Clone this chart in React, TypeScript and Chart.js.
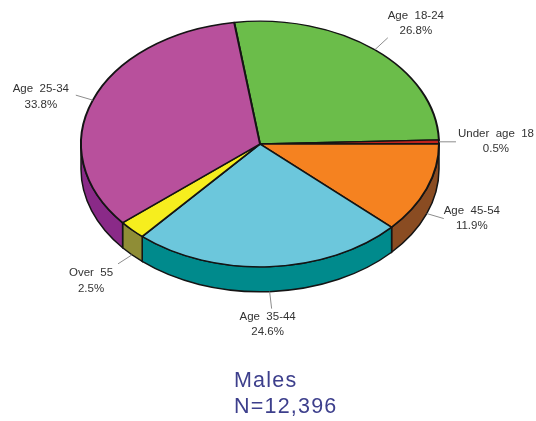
import React, { useEffect, useRef } from "react";
import { Chart, registerables } from "chart.js";

Chart.register(...registerables);

const categories = ["Age  18-24", "Under  age  18", "Age  45-54", "Age  35-44", "Over  55", "Age  25-34"];
const shares = [26.8, 0.5, 11.9, 24.6, 2.5, 33.8];
const topColors = ["#6bbd4a", "#c0241c", "#f58220", "#6cc7dc", "#f6ee1e", "#b8509c"];
const sideColors = ["#3f7a2a", "#7a1510", "#8a4c22", "#008a8c", "#8f8d36", "#8a2a88"];
const titleLines = ["Males", "N=12,396"];

// Leader end (lx, ly) and text centre (tx, ty), relative to each slice's rim point.
const labelLayout = [
  { lx: 13, ly: -12, tx: 41, ty: -34 },
  { lx: 17, ly: 0, tx: 57, ty: -8 },
  { lx: 17, ly: 5, tx: 45, ty: -3 },
  { lx: 2, ly: 17, tx: -2, ty: 25 },
  { lx: -14, ly: 9, tx: -41, ty: 18 },
  { lx: -17, ly: -5, tx: -52, ty: -11 },
];

const WIDTH = 536;
const HEIGHT = 421;
const CENTER_X = 260;
const CENTER_Y = 144;
const TILT = 123.5 / 180;
const DEPTH = 25;
const OUTLINE = "#141414";

const pie3d = {
  id: "pie3d",
  beforeDatasetsDraw(chart: any) {
    const { ctx } = chart;
    const arcs = chart.getDatasetMeta(0).data;
    ctx.save();
    // Extruded rim, front half only.
    arcs.forEach((arc: any, i: number) => {
      const p = arc.getProps(["startAngle", "endAngle", "outerRadius"], true);
      const twoPi = Math.PI * 2;
      let s = p.startAngle % twoPi;
      let e = p.endAngle % twoPi;
      if (s < -Math.PI) s += twoPi;
      if (e < s) e += twoPi;
      if (s > Math.PI) {
        s -= twoPi;
        e -= twoPi;
      }
      const from = Math.max(s, 0);
      const to = Math.min(e, Math.PI);
      if (to <= from) return;
      const rx = p.outerRadius;
      const ry = p.outerRadius * TILT;
      ctx.beginPath();
      ctx.ellipse(CENTER_X, CENTER_Y, rx, ry, 0, from, to);
      ctx.ellipse(CENTER_X, CENTER_Y + DEPTH, rx, ry, 0, to, from, true);
      ctx.closePath();
      ctx.fillStyle = sideColors[i];
      ctx.fill();
      ctx.lineWidth = 1.5;
      ctx.strokeStyle = OUTLINE;
      ctx.stroke();
    });
    // Squash the pie into an ellipse around the visual centre.
    const first = arcs[0];
    ctx.translate(CENTER_X, CENTER_Y);
    ctx.scale(1, TILT);
    ctx.translate(-first.x, -first.y);
  },
  afterDatasetsDraw(chart: any) {
    const { ctx } = chart;
    ctx.restore();
    ctx.save();
    chart.getDatasetMeta(0).data.forEach((arc: any, i: number) => {
      const p = arc.getProps(["startAngle", "endAngle", "outerRadius"], true);
      const mid = (p.startAngle + p.endAngle) / 2;
      const front = Math.sin(mid) > 0;
      const ax = CENTER_X + p.outerRadius * Math.cos(mid);
      const ay = CENTER_Y + p.outerRadius * TILT * Math.sin(mid) + (front ? DEPTH : 0);
      const l = labelLayout[i];
      ctx.beginPath();
      ctx.moveTo(ax, ay);
      ctx.lineTo(ax + l.lx, ay + l.ly);
      ctx.strokeStyle = "#8c8c8c";
      ctx.lineWidth = 1;
      ctx.stroke();
      ctx.fillStyle = "#333333";
      ctx.font = '11.5px "Liberation Sans", Arial, sans-serif';
      ctx.textAlign = "center";
      ctx.textBaseline = "middle";
      ctx.fillText(categories[i], ax + l.tx, ay + l.ty);
      ctx.fillText(shares[i].toFixed(1) + "%", ax + l.tx, ay + l.ty + 15.5);
    });
    ctx.fillStyle = "#3d3f8c";
    ctx.font = '21.5px "Liberation Sans", Arial, sans-serif';
    ctx.textAlign = "left";
    ctx.textBaseline = "alphabetic";
    (ctx as any).letterSpacing = "1.2px";
    titleLines.forEach((line, i) => ctx.fillText(line, 234, 387 + i * 26));
    ctx.restore();
  },
};

export default function App() {
  const ref = useRef<HTMLCanvasElement>(null);
  useEffect(() => {
    const chart = new Chart(ref.current as HTMLCanvasElement, {
      type: "pie",
      data: {
        labels: categories,
        datasets: [
          {
            data: shares,
            backgroundColor: topColors,
            borderColor: OUTLINE,
            borderWidth: 2,
            borderJoinStyle: "round",
          } as any,
        ],
      },
      options: {
        responsive: false,
        animation: false,
        rotation: -8.3,
        radius: "100%",
        layout: { padding: { left: 80, right: 96, top: 30, bottom: 31 } },
        plugins: { legend: { display: false }, tooltip: { enabled: false }, title: { display: false } },
      } as any,
      plugins: [pie3d],
    });
    return () => chart.destroy();
  }, []);
  return (
    <div style={{ position: "fixed", left: 0, top: 0, width: WIDTH, height: HEIGHT, background: "#fff" }}>
      <canvas ref={ref} width={WIDTH} height={HEIGHT} style={{ display: "block", filter: "blur(0.35px)" }} />
    </div>
  );
}
